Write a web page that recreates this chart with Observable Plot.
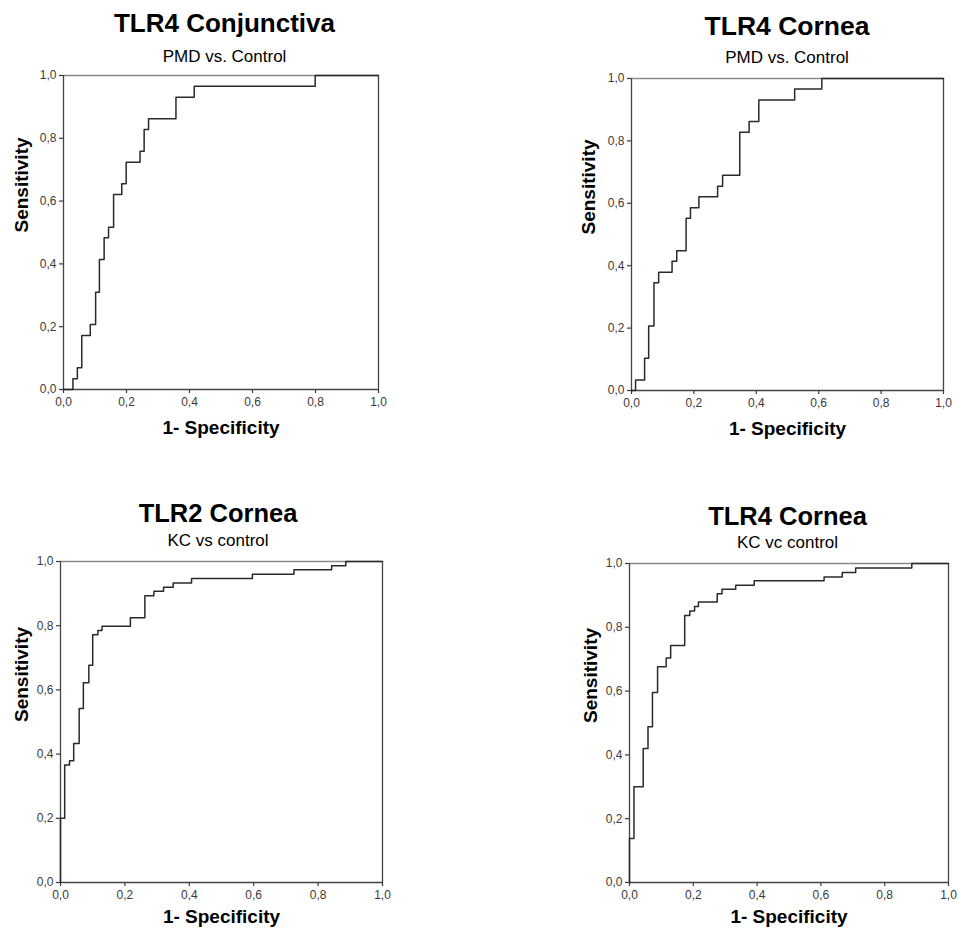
<!DOCTYPE html>
<html>
<head>
<meta charset="utf-8">
<script src="https://cdn.jsdelivr.net/npm/d3@7"></script>
<script src="https://cdn.jsdelivr.net/npm/@observablehq/plot@0.6"></script>
<style>
  html, body { margin: 0; padding: 0; background: #fff; }
  #root { position: relative; width: 959px; height: 938px; overflow: hidden; font-family: "Liberation Sans", Arial, sans-serif; }
  .title, .subtitle { position: absolute; text-align: center; line-height: 1; white-space: nowrap; color: #000; }
  .title { font-weight: bold; }
  .panel { position: absolute; }
  .panel svg { max-width: none !important; }
</style>
</head>
<body>
<div id="root"></div>
<script>
// ---- data ----
const titles = ["TLR4 Conjunctiva", "TLR4 Cornea", "TLR2 Cornea", "TLR4 Cornea"];
const subtitles = ["PMD vs. Control", "PMD vs. Control", "KC vs control", "KC vc control"];
const xAxisLabel = "1- Specificity";
const yAxisLabel = "Sensitivity";
const tickValues = [0, 0.2, 0.4, 0.6, 0.8, 1.0];
const tickLabels = ["0,0", "0,2", "0,4", "0,6", "0,8", "1,0"];

// Panel 1: TLR4 Conjunctiva, PMD vs. Control
const p1FPR = [0, 0.030, 0.044, 0.058, 0.085, 0.102, 0.114, 0.129, 0.143, 0.159, 0.185, 0.199, 0.243, 0.256, 0.270, 0.357, 0.415, 0.799, 1.0];
const p1TPR = [0, 0.034, 0.069, 0.172, 0.207, 0.310, 0.414, 0.483, 0.517, 0.621, 0.655, 0.724, 0.759, 0.828, 0.862, 0.931, 0.966, 1.0, 1.0];
// Panel 2: TLR4 Cornea, PMD vs. Control
const p2FPR = [0, 0.013, 0.042, 0.055, 0.072, 0.087, 0.130, 0.145, 0.175, 0.189, 0.216, 0.276, 0.292, 0.347, 0.377, 0.408, 0.523, 0.610, 1.0];
const p2TPR = [0, 0.034, 0.103, 0.207, 0.345, 0.379, 0.414, 0.448, 0.552, 0.586, 0.621, 0.655, 0.690, 0.828, 0.862, 0.931, 0.966, 1.0, 1.0];
// Panel 3: TLR2 Cornea, KC vs control
const p3FPR = [0, 0, 0.013, 0.028, 0.041, 0.058, 0.071, 0.088, 0.100, 0.116, 0.129, 0.217, 0.262, 0.290, 0.320, 0.350, 0.407, 0.596, 0.725, 0.842, 0.886, 1.0];
const p3TPR = [0, 0.200, 0.366, 0.379, 0.433, 0.542, 0.622, 0.677, 0.772, 0.785, 0.798, 0.825, 0.893, 0.907, 0.920, 0.933, 0.947, 0.960, 0.974, 0.987, 1.0, 1.0];
// Panel 4: TLR4 Cornea, KC vc control
const p4FPR = [0, 0, 0.014, 0.043, 0.058, 0.072, 0.088, 0.115, 0.129, 0.173, 0.189, 0.204, 0.216, 0.275, 0.290, 0.333, 0.391, 0.610, 0.667, 0.709, 0.885, 1.0];
const p4TPR = [0, 0.138, 0.300, 0.420, 0.488, 0.596, 0.676, 0.704, 0.743, 0.837, 0.851, 0.865, 0.879, 0.905, 0.919, 0.932, 0.946, 0.958, 0.972, 0.986, 1.0, 1.0];

const series = [[p1FPR, p1TPR], [p2FPR, p2TPR], [p3FPR, p3TPR], [p4FPR, p4TPR]];

// ---- layout (pixel geometry of each panel's frame) ----
const layout = [
  {left: 63,  top: 75,  w: 315, h: 314, titleSize: 26,   titleBase: 32,  subSize: 17, subBase: 62,  titleDx: 4, xLabDy: 44, yLabDx: -42},
  {left: 631, top: 78,  w: 312, h: 312, titleSize: 26.5, titleBase: 35,  subSize: 17, subBase: 63,  titleDx: 0, xLabDy: 44, yLabDx: -43},
  {left: 60,  top: 561, w: 322, h: 321, titleSize: 25.5, titleBase: 523, subSize: 17, subBase: 546, titleDx: -3, xLabDy: 40, yLabDx: -39},
  {left: 629, top: 563, w: 319, h: 319, titleSize: 25.5, titleBase: 526, subSize: 17, subBase: 548, titleDx: -1, xLabDy: 40, yLabDx: -39}
];

const ML = 75, MR = 8, MT = 10, MB = 65;
const FONT = "'Liberation Sans', Arial, sans-serif";
const root = document.getElementById("root");

layout.forEach((L, i) => {
  const [fpr, tpr] = series[i];
  const pts = fpr.map((x, k) => ({x, y: tpr[k]}));
  const W = L.w + ML + MR, H = L.h + MT + MB;

  const chart = Plot.plot({
    width: W,
    height: H,
    marginLeft: ML, marginRight: MR, marginTop: MT, marginBottom: MB,
    style: {fontFamily: FONT, background: "transparent", overflow: "visible"},
    x: {domain: [0, 1]},
    y: {domain: [0, 1]},
    marks: [
      Plot.axisX({ticks: tickValues, tickFormat: (d, j) => tickLabels[j], tickSize: 4, tickPadding: 4,
                  fontSize: 12, color: "#3a3a3a", label: null, strokeWidth: 1.2}),
      Plot.axisY({ticks: tickValues, tickFormat: (d, j) => tickLabels[j], tickSize: 4, tickPadding: 3,
                  fontSize: 12, color: "#3a3a3a", label: null, strokeWidth: 1.2}),
      Plot.ruleY([1], {stroke: "#8a8a8a", strokeWidth: 1.5}),
      Plot.ruleX([1], {stroke: "#444", strokeWidth: 1.3}),
      Plot.ruleX([0], {stroke: "#444", strokeWidth: 1.3}),
      Plot.ruleY([0], {stroke: "#444", strokeWidth: 1.3}),
      Plot.line(pts, {x: "x", y: "y", curve: "step-after", stroke: "#2a2a2a", strokeWidth: 1.5}),
      Plot.text([xAxisLabel], {text: d => d, frameAnchor: "bottom", dy: L.xLabDy, fontSize: 19,
                               fontWeight: "bold", fill: "#000"}),
      Plot.text([yAxisLabel], {text: d => d, frameAnchor: "left", dx: L.yLabDx, rotate: -90, fontSize: 19,
                               fontWeight: "bold", fill: "#000"})
    ]
  });
  chart.style.maxWidth = "none";

  const wrap = document.createElement("div");
  wrap.className = "panel";
  wrap.style.left = (L.left - ML) + "px";
  wrap.style.top = (L.top - MT) + "px";
  wrap.style.width = W + "px";
  wrap.style.height = H + "px";
  wrap.appendChild(chart);
  root.appendChild(wrap);

  const cx = L.left + L.w / 2 + L.titleDx;
  const t = document.createElement("div");
  t.className = "title";
  t.textContent = titles[i];
  t.style.fontSize = L.titleSize + "px";
  t.style.left = (cx - 200) + "px";
  t.style.width = "400px";
  t.style.top = (L.titleBase - 0.847 * L.titleSize) + "px";
  root.appendChild(t);

  const s = document.createElement("div");
  s.className = "subtitle";
  s.textContent = subtitles[i];
  s.style.fontSize = L.subSize + "px";
  s.style.left = (cx - 200) + "px";
  s.style.width = "400px";
  s.style.top = (L.subBase - 0.847 * L.subSize) + "px";
  root.appendChild(s);
});
</script>
</body>
</html>
